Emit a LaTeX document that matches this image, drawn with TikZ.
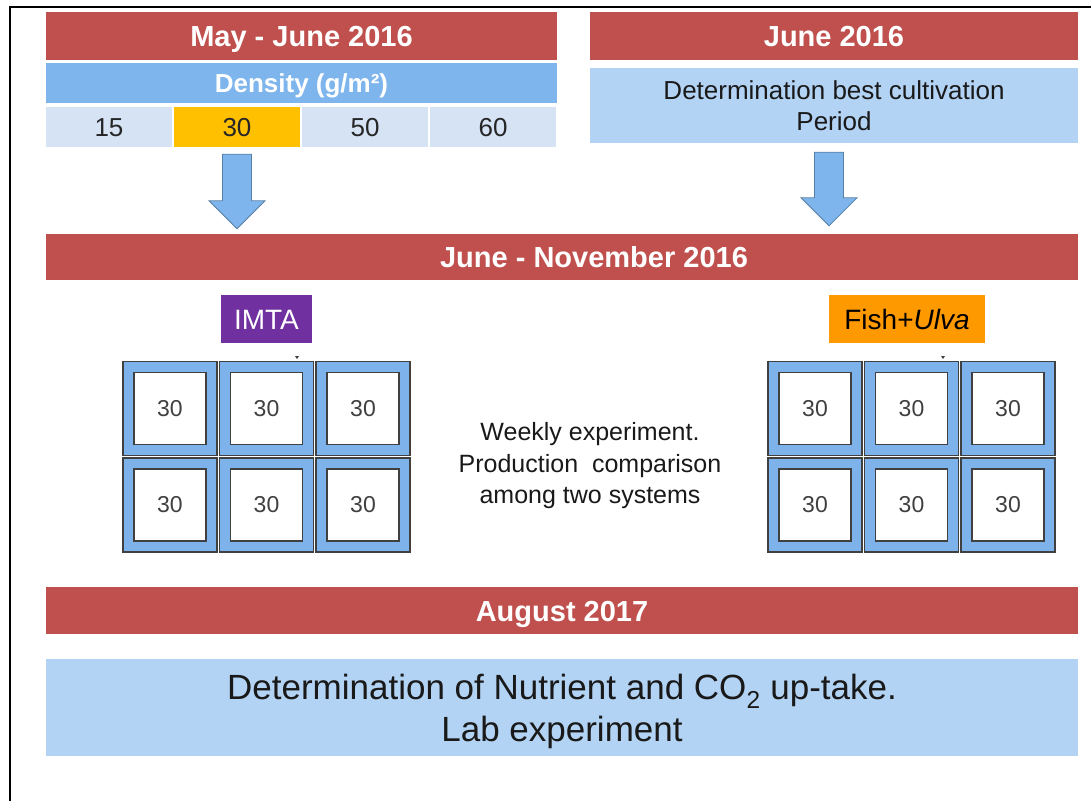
\documentclass[tikz,border=0pt]{standalone}
\usepackage{fontspec}
\setmainfont{Liberation Sans}
\usetikzlibrary{calc}
\definecolor{hdrred}{HTML}{C0504D}
\definecolor{densblue}{HTML}{7EB5EC}
\definecolor{celllight}{HTML}{D5E3F5}
\definecolor{cellgold}{HTML}{FFC000}
\definecolor{boxblue}{HTML}{B3D3F4}
\definecolor{tankblue}{HTML}{7DB3EA}
\definecolor{imtapurple}{HTML}{7030A0}
\definecolor{ulvaorange}{HTML}{FF9900}
\definecolor{tankline}{HTML}{404040}
\begin{document}
\begin{tikzpicture}[x=1pt, y=-1pt,
    hdr/.style={fill=hdrred, text=white, inner sep=0pt, minimum height=48pt, text height=21pt, text depth=0pt, font=\fontsize{29}{33}\selectfont\bfseries},
    dens/.style={fill=densblue, text=white, inner sep=0pt, minimum height=40pt, text height=19pt, text depth=0pt, font=\fontsize{26}{30}\selectfont\bfseries},
    cell/.style={fill=celllight, minimum width=126pt, minimum height=40pt, inner sep=0pt, text height=19pt, text depth=0pt, text=black!85, font=\fontsize{26}{30}\selectfont},
    infobox/.style={fill=boxblue, inner sep=0pt, align=center, text=black!90},
    tank/.style={fill=tankblue, draw=tankline, line width=1.3pt, minimum size=94pt, inner sep=0pt},
    tankin/.style={fill=white, draw=tankline, line width=1.3pt, minimum size=72pt, inner sep=0pt, text=tankline, font=\fontsize{23}{26}\selectfont},
    sysbox/.style={minimum height=48pt, inner sep=0pt, text height=20pt, text depth=0pt, font=\fontsize{28}{32}\selectfont},
    blockarrow/.style={fill=densblue, draw=densblue!70!black, line width=0.8pt, line join=miter}]
    \useasboundingbox (0,0) rectangle (1091,801);
    % frame
    \draw[line width=2pt] (10,801) -- (10,7) -- (1091,7);
    % May - June 2016
    \node[hdr, minimum width=511pt] (may) at (301.5,36) {May - June 2016};
    \node[dens, minimum width=511pt] (density) at (301.5,83) {Density (g/m²)};
    \node[cell] (c15) at (109,127) {15};
    \node[cell, fill=cellgold] (c30) at (237,127) {30};
    \node[cell] (c50) at (365,127) {50};
    \node[cell] (c60) at (493,127) {60};
    % June 2016
    \node[hdr, minimum width=488pt] (june) at (834,36) {June 2016};
    \node[infobox, minimum width=488pt, minimum height=75pt, font=\fontsize{26}{31}\selectfont] (period) at (834,105.5) {Determination best cultivation\\Period};
    % June - November 2016
    \node[hdr, minimum width=1032pt, minimum height=46pt] (jun-nov) at (562,257) {\hspace*{64pt}June - November 2016};
    % arrows
    \coordinate (a1top) at ($(c30.south)+(0,7)$);
    \coordinate (a1tip) at ($(jun-nov.north -| a1top)+(0,-5)$);
    \draw[blockarrow] ($(a1top)+(-14.5,0)$) -- ($(a1top)+(14.5,0)$) -- ($(a1tip)+(14.5,-28)$) -- ($(a1tip)+(28,-28)$) -- (a1tip)
        -- ($(a1tip)+(-28,-28)$) -- ($(a1tip)+(-14.5,-28)$) -- cycle;
    \coordinate (a2top) at ($(period.south)+(-5,9)$);
    \coordinate (a2tip) at ($(jun-nov.north -| a2top)+(0,-8)$);
    \draw[blockarrow] ($(a2top)+(-14.5,0)$) -- ($(a2top)+(14.5,0)$) -- ($(a2tip)+(14.5,-28)$) -- ($(a2tip)+(28,-28)$) -- (a2tip)
        -- ($(a2tip)+(-28,-28)$) -- ($(a2tip)+(-14.5,-28)$) -- cycle;
    % IMTA
    \node[sysbox, fill=imtapurple, text=white, minimum width=91pt] (imta) at (266.5,319) {IMTA};
    \foreach \c in {0,1,2}
        \foreach \r in {0,1} {
            \node[tank] (imta-\c-\r) at ({170+96.5*\c},{408.5+96.5*\r}) {};
            \node[tankin] at (imta-\c-\r) {30};
        }
    \fill[tankline] (295,356) -- (299,356) -- (297,359) -- cycle;
    % Fish+Ulva
    \node[sysbox, fill=ulvaorange, text=black, minimum width=156pt] (fish) at (907,319) {Fish+\textit{Ulva}};
    \foreach \c in {0,1,2}
        \foreach \r in {0,1} {
            \node[tank] (fish-\c-\r) at ({815+96.5*\c},{408.5+96.5*\r}) {};
            \node[tankin] at (fish-\c-\r) {30};
        }
    \fill[tankline] (941,356) -- (945,356) -- (943,359) -- cycle;
    \node[align=center, text=black!90, font=\fontsize{25}{31.5}\selectfont] (weekly) at (590,466) {Weekly experiment.\\Production\ \ comparison\\among two systems};
    % August 2017
    \node[hdr, minimum width=1032pt, minimum height=47pt] (aug) at (562,610.5) {August 2017};
    \node[infobox, minimum width=1032pt, minimum height=97pt] (lab) at (562,707.5) {};
    \node[align=center, text=black!90, font=\fontsize{35}{42}\selectfont] (labtext) at ($(lab)+(0,4)$) {Determination of Nutrient and CO\textsubscript{2} up-take.\\Lab experiment};
\end{tikzpicture}
\end{document}
